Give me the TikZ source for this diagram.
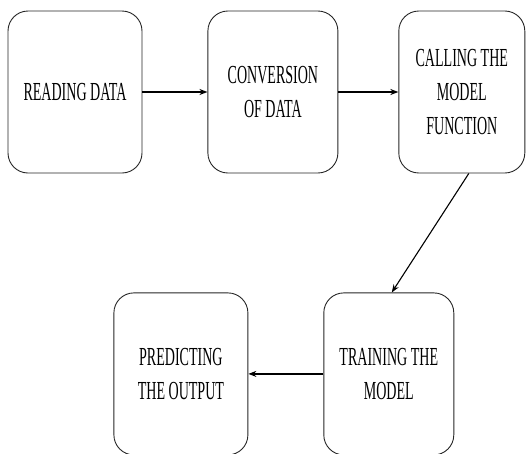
\documentclass[tikz,border=0pt]{standalone}
\usepackage{fontspec}
\setmainfont{Liberation Serif}[FakeStretch=0.54]
\usepackage{tikz}
\usetikzlibrary{arrows.meta, positioning}

\begin{document}
\begin{tikzpicture}[
	node distance=65pt,
	every node/.style={font=\fontsize{26}{34}\selectfont},
	module/.style={rectangle, draw=black!85, line width=0.9pt, rounded corners=20pt, minimum width=130pt, minimum height=162pt, align=center, inner sep=2pt},
	arrow/.style={-{Stealth[length=8pt, width=6pt]}, line width=1.5pt}
]
\useasboundingbox (0,0) rectangle (528pt,-453pt);

% top row
\node[module, minimum width=134pt] (read) at (75pt,-92pt) {READING DATA};
\node[module, right=of read] (conv) {CONVERSION\\ OF DATA};
\node[module, minimum width=126pt, right=60pt of conv] (call) {CALLING THE\\ MODEL\\ FUNCTION};

% bottom row
\node[module, below=119pt of call, xshift=-73pt] (train) {TRAINING THE\\ MODEL};
\node[module, minimum width=134pt, left=75pt of train] (pred) {PREDICTING\\ THE OUTPUT};

% arrows
\draw[arrow] (read) -- (conv);
\draw[arrow] (conv) -- (call);
\draw[arrow, line width=1.1pt] ([xshift=7pt]call.south) -- ([xshift=3pt]train.north);
\draw[arrow] (train) -- (pred);

\end{tikzpicture}
\end{document}
